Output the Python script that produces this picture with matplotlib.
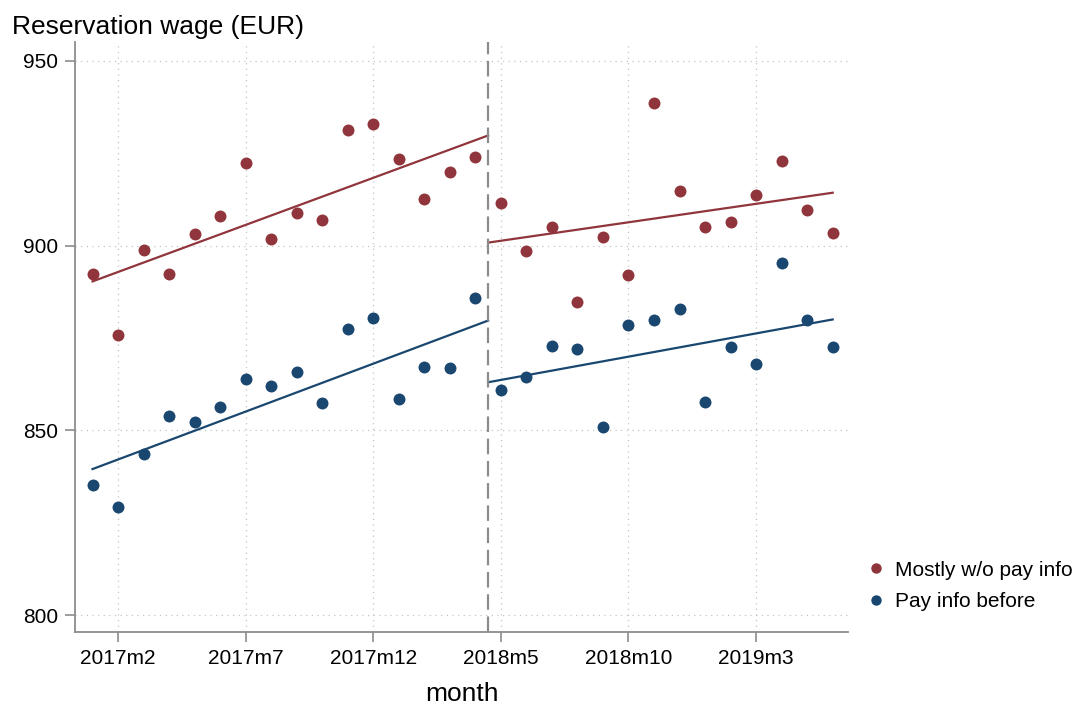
import numpy as np
import matplotlib
matplotlib.use("Agg")
import matplotlib.pyplot as plt
from matplotlib.lines import Line2D

# monthly means, 2017m1 .. 2019m6
month_labels = ["2017m1", "2017m2", "2017m3", "2017m4", "2017m5", "2017m6",
                "2017m7", "2017m8", "2017m9", "2017m10", "2017m11", "2017m12",
                "2018m1", "2018m2", "2018m3", "2018m4", "2018m5", "2018m6",
                "2018m7", "2018m8", "2018m9", "2018m10", "2018m11", "2018m12",
                "2019m1", "2019m2", "2019m3", "2019m4", "2019m5", "2019m6"]
wage_no_info = [892.2, 875.7, 898.8, 892.4, 903.2, 907.9, 922.3, 901.9, 908.9, 907.0,
                931.4, 933.0, 923.4, 912.7, 920.0, 923.9, 911.6, 898.5, 905.1, 884.6,
                902.4, 892.0, 938.5, 914.9, 904.9, 906.5, 913.6, 922.8, 909.6, 903.4]
wage_info = [835.2, 829.3, 843.7, 853.9, 852.3, 856.3, 863.8, 862.1, 865.9, 857.5,
             877.4, 880.5, 858.6, 867.1, 866.8, 885.9, 860.9, 864.4, 872.9, 872.1,
             851.0, 878.5, 879.8, 882.7, 857.7, 872.6, 868.0, 895.4, 879.9, 872.5]

# linear fits (start, end) before and after the cutoff
fit_no_info_pre = [890.3, 929.8]
fit_no_info_post = [900.8, 914.3]
fit_info_pre = [839.5, 879.7]
fit_info_post = [863.0, 880.0]

cutoff = 15.5  # between 2018m4 and 2018m5
tick_labels = ["2017m2", "2017m7", "2017m12", "2018m5", "2018m10", "2019m3"]

red = "#90353b"
navy = "#1a476f"
gray = "#8c8c8c"

plt.rcParams["font.family"] = ["Liberation Sans", "DejaVu Sans"]

t = np.arange(len(month_labels))
fig = plt.figure(figsize=(10.8, 7.04), dpi=100)
ax = fig.add_axes([75/1080, 1-632/704, (848-75)/1080, (632-42)/704])

ax.plot(t, wage_no_info, "o", color=red, ms=8.6, mec="none", zorder=3)
ax.plot(t, wage_info, "o", color=navy, ms=8.6, mec="none", zorder=3)
ax.plot([t[0], cutoff], fit_no_info_pre, color=red, lw=1.6)
ax.plot([cutoff, t[-1]], fit_no_info_post, color=red, lw=1.6)
ax.plot([t[0], cutoff], fit_info_pre, color=navy, lw=1.6)
ax.plot([cutoff, t[-1]], fit_info_post, color=navy, lw=1.6)
ax.axvline(cutoff, color=gray, lw=1.6, ls=(0, (7, 3)), zorder=2)

ax.set_xlim(-0.686, 29.6)
ax.set_ylim(795.4, 955.1)
ax.set_xticks([month_labels.index(m) for m in tick_labels])
ax.set_xticklabels(tick_labels)
ax.set_yticks([800, 850, 900, 950])

ax.grid(True, color="#c4c4c4", ls=(0, (1, 3.5)), lw=0.9)
ax.set_axisbelow(True)
for s in ["top", "right"]:
    ax.spines[s].set_visible(False)
for s in ["left", "bottom"]:
    ax.spines[s].set_color(gray)
    ax.spines[s].set_linewidth(1.3)
ax.tick_params(colors=gray, labelcolor="black", labelsize=15, length=7, width=1.2, pad=5)

ax.set_xlabel("month", fontsize=19, labelpad=10)
fig.text(12/1080, 1-27/704, "Reservation wage (EUR)", fontsize=19, va="center", ha="left")

handles = [Line2D([], [], ls="none", marker="o", color=red, ms=7.5, mec="none"),
           Line2D([], [], ls="none", marker="o", color=navy, ms=7.5, mec="none")]
fig.legend(handles, ["Mostly w/o pay info", "Pay info before"], loc="center left",
           bbox_to_anchor=(855/1080, 1-586/704), frameon=False, fontsize=15,
           handletextpad=0.3, labelspacing=0.6, handlelength=1.2, borderaxespad=0)

fig.savefig("out.png", dpi=100)
